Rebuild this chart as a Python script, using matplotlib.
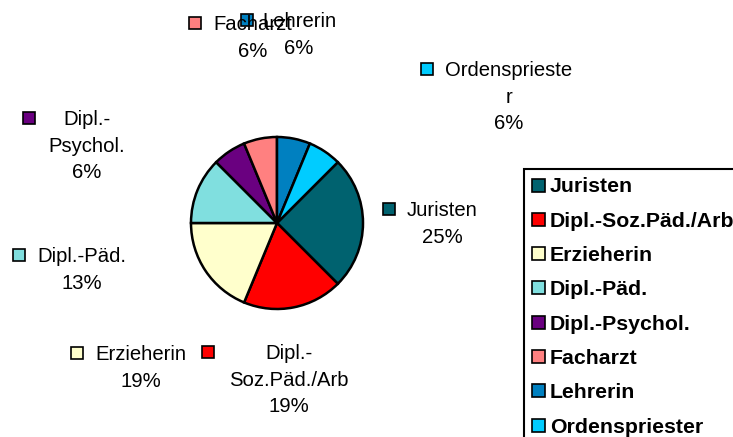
import math
import matplotlib
matplotlib.use("Agg")
import matplotlib.pyplot as plt
from matplotlib.patches import Rectangle

plt.rcParams['font.family'] = ['Liberation Sans', 'DejaVu Sans']

# Berufsgruppen (Anzahl Personen)
categories = ['Juristen', 'Dipl.-Soz.Päd./Arb', 'Erzieherin', 'Dipl.-Päd.',
              'Dipl.-Psychol.', 'Facharzt', 'Lehrerin', 'Ordenspriester']
counts = [4, 3, 3, 2, 1, 1, 1, 1]
colors = ['#00626F', '#FF0000', '#FFFFCC', '#80DFDF',
          '#6A0080', '#FF8080', '#0080C0', '#00CCFF']

# Datenbeschriftungen, so umbrochen wie im Original
label_lines = [['Juristen'], ['Dipl.-', 'Soz.Päd./Arb'], ['Erzieherin'],
               ['Dipl.-Päd.'], ['Dipl.-', 'Psychol.'], ['Facharzt'],
               ['Lehrerin'], ['Ordensprieste', 'r']]

# Lage der Beschriftungen in Pixeln: Textmitte x, erste Zeile y, Symbol x
label_pos = [(442, 209, 389), (289, 352, 208), (141, 353, 77), (82, 255, 19),
             (87, 118, 29), (253, 23, 195), (299, 20, 247), (509, 69, 427)]

W, H = 733, 437
fs = 14.6
line_h = 26.5
fig = plt.figure(figsize=(W / 100, H / 100), dpi=100)

# Kreis
cx, cy, r = 277, 223, 86
ax = fig.add_axes([(cx - r) / W, (H - cy - r) / H, 2 * r / W, 2 * r / H])
ax.pie(counts, colors=colors, startangle=45, counterclock=False,
       wedgeprops={'edgecolor': 'black', 'linewidth': 1.8, 'clip_on': False})
ax.set_xlim(-1, 1)
ax.set_ylim(-1, 1)
ax.set_aspect('equal')
ax.axis('off')

# Ebene für Beschriftungen und Legende in Pixelkoordinaten
ov = fig.add_axes([0, 0, 1, 1])
ov.set_xlim(0, W)
ov.set_ylim(H, 0)
ov.axis('off')

total = sum(counts)
for name, lines, (tx, ty, kx), c, n in zip(categories, label_lines, label_pos, colors, counts):
    pct = math.floor(n / total * 100 + 0.5)
    for i, s in enumerate(lines + [f'{pct}%']):
        ov.text(tx, ty + 7.3 + i * line_h, s, ha='center', va='baseline', fontsize=fs)
    ov.add_patch(Rectangle((kx - 6, ty - 6), 12, 12, facecolor=c,
                           edgecolor='black', linewidth=1.2))

# Legende
ov.add_patch(Rectangle((524, 169), 300, 300, facecolor='white',
                       edgecolor='black', linewidth=1.5, clip_on=False))
for i, (name, c) in enumerate(zip(categories, colors)):
    y = 185 + i * 34.3
    ov.add_patch(Rectangle((532, y - 6.5), 13, 13, facecolor=c,
                           edgecolor='black', linewidth=1.2))
    ov.text(550, y + 7.5, name, ha='left', va='baseline', fontsize=15.3, fontweight='bold')

fig.savefig('out.png', dpi=100)
